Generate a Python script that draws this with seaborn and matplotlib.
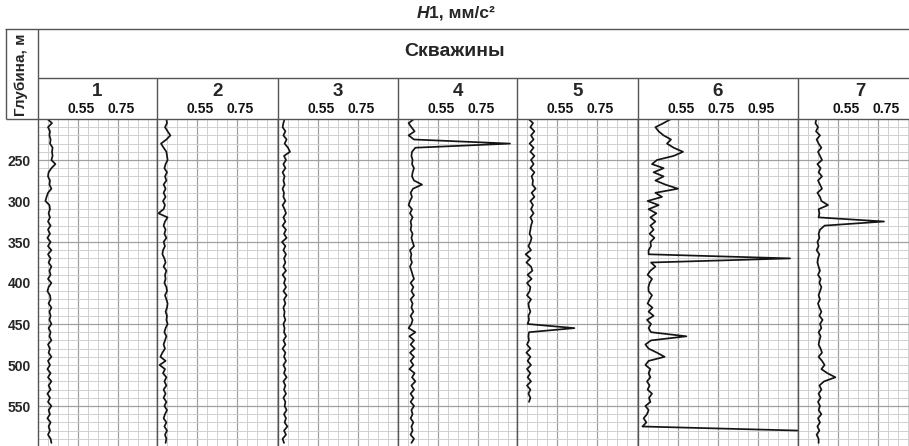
"""
Вертикальные профили H1 по семи скважинам (глубина 200-600 м).
"""

import matplotlib
matplotlib.use("Agg")
import matplotlib.pyplot as plt
from matplotlib.lines import Line2D
from matplotlib.transforms import ScaledTranslation
import seaborn as sns

# -------- Data -------- #

depth = list(range(200, 600, 5))

wells = ["1", "2", "3", "4", "5", "6", "7"]

well_1 = [.397, .420, .400, .410, .407, .413, .410, .423, .420, .423,
          .417, .437, .417, .403, .400, .410, .407, .417, .400, .393,
          .387, .407, .410, .403, .410, .400, .413, .400, .410, .397,
          .413, .400, .417, .400, .413, .403, .417, .407, .413, .400,
          .417, .403, .397, .410, .413, .403, .417, .407, .413, .407,
          .417, .403, .413, .407, .417, .400, .410, .403, .417, .400,
          .410, .397, .413, .400, .417, .403, .413, .397, .410, .400,
          .417, .403, .410, .397, .413, .403, .410, .400, .413, .417]

well_2 = [.397, .400, .390, .403, .417, .397, .370, .383, .397, .400,
          .403, .393, .387, .400, .390, .397, .383, .393, .383, .393,
          .380, .390, .383, .357, .403, .390, .383, .393, .387, .397,
          .383, .390, .380, .377, .387, .393, .383, .397, .390, .393,
          .387, .397, .400, .390, .397, .403, .400, .393, .400, .397,
          .403, .393, .387, .397, .390, .383, .390, .377, .367, .393,
          .363, .390, .380, .397, .387, .397, .383, .393, .383, .397,
          .387, .400, .390, .383, .397, .387, .400, .390, .397, .393]

well_3 = [.383, .377, .373, .387, .377, .393, .383, .400, .410, .380,
          .390, .377, .387, .373, .383, .377, .383, .373, .380, .377,
          .387, .373, .383, .390, .377, .387, .373, .390, .380, .393,
          .370, .387, .377, .390, .380, .387, .377, .390, .373, .387,
          .380, .390, .377, .393, .380, .387, .377, .383, .380, .387,
          .377, .383, .380, .390, .377, .387, .373, .387, .380, .390,
          .377, .387, .380, .393, .377, .387, .380, .390, .377, .387,
          .383, .393, .380, .390, .383, .397, .380, .390, .373, .380]

well_4 = [.430, .403, .417, .433, .403, .430, .910, .437, .420, .417,
          .423, .420, .430, .423, .420, .430, .470, .425, .413, .420,
          .410, .403, .420, .410, .423, .413, .417, .413, .423, .417,
          .423, .430, .410, .417, .413, .420, .410, .417, .423, .430,
          .413, .427, .417, .430, .413, .423, .417, .427, .413, .423,
          .417, .403, .437, .407, .430, .413, .433, .410, .430, .413,
          .427, .407, .433, .420, .437, .417, .430, .413, .427, .413,
          .430, .417, .423, .413, .427, .417, .423, .413, .430, .417]

well_5 = [.408, .430, .417, .437, .420, .433, .413, .433, .417, .437,
          .420, .433, .417, .437, .423, .430, .427, .443, .423, .437,
          .417, .430, .420, .433, .417, .427, .420, .417, .413, .423,
          .417, .407, .420, .393, .417, .397, .420, .427, .403, .423,
          .400, .417, .413, .400, .420, .407, .410, .417, .407, .410,
          .403, .637, .410, .407, .410, .400, .417, .397, .417, .403,
          .420, .400, .417, .403, .420, .400, .417, .407, .417, .410,
          None, None, None, None, None, None, None, None, None, None]

well_6 = [.515, .478, .437, .453, .478, .515, .495, .528, .575, .528,
          .445, .420, .478, .428, .478, .437, .487, .550, .437, .470,
          .398, .453, .403, .442, .412, .437, .412, .428, .408, .432,
          .412, .415, .403, .403, 1.110, .415, .437, .412, .398, .420,
          .408, .402, .403, .420, .408, .398, .422, .403, .428, .395,
          .415, .403, .415, .592, .415, .387, .403, .445, .483, .403,
          .387, .412, .403, .412, .395, .408, .398, .420, .405, .412,
          .387, .403, .395, .378, .392, .372, 1.160, None, None, None]

well_7 = [.442, .437, .450, .440, .460, .443, .453, .467, .450, .460,
          .470, .447, .463, .453, .470, .450, .460, .470, .447, .460,
          .467, .500, .453, .457, .453, .780, .483, .460, .453, .457,
          .447, .453, .443, .457, .450, .447, .453, .460, .450, .463,
          .457, .467, .460, .453, .460, .450, .457, .467, .457, .473,
          .460, .467, .453, .463, .457, .453, .463, .470, .453, .470,
          .483, .467, .497, .537, .480, .457, .467, .453, .463, .450,
          .460, .453, .467, .450, .460, .447, .457, .443, .453, .453]

series = [well_1, well_2, well_3, well_4, well_5, well_6, well_7]
tick_values = [[0.55, 0.75]] * 5 + [[0.55, 0.75, 0.95], [0.55, 0.75]]

# -------- Layout (pixels) -------- #

W, H = 909, 446
edges = [38, 157, 278, 398, 517, 638, 798, 909]
top = 119
px_per_unit = 200.0
px_per_m = 0.82
x_start = 0.35
line_col = "#555555"


def fx(px):
    return px / W


def fy(py):
    return 1 - py / H


def fig_line(fig, xs, ys):
    fig.add_artist(Line2D([fx(x) for x in xs], [fy(y) for y in ys],
                          color=line_col, lw=1.0, solid_capstyle="butt"))


sns.set_theme(style="white")
plt.rcParams["font.family"] = ["Liberation Sans", "DejaVu Sans"]
plt.rcParams["font.weight"] = "bold"

fig = plt.figure(figsize=(W / 100, H / 100), dpi=100)

y_bottom = 200 + (H - top) / px_per_m

for i, (name, values) in enumerate(zip(wells, series)):
    left, right = edges[i], edges[i + 1]
    ax = fig.add_axes([fx(left), 0, (right - left) / W, (H - top) / H])
    x_end = x_start + (right - left) / px_per_unit

    # grid
    k = 1
    while x_start + 0.05 * k < x_end - 1e-6:
        xv = round(x_start + 0.05 * k, 2)
        major = xv in tick_values[i]
        ax.axvline(xv, color="#a0a0a0" if major else "#d0d0d0",
                   lw=0.9 if major else 0.7, zorder=0)
        k += 1
    for d in range(210, 600, 10):
        major = d in (250, 350, 450, 550)
        ax.axhline(d, color="#a0a0a0" if major else "#d0d0d0",
                   lw=0.9 if major else 0.7, zorder=0)

    sns.lineplot(x=[v if v is not None else float("nan") for v in values],
                 y=depth, orient="y", sort=False, estimator=None,
                 color="#151515", lw=1.25, ax=ax)

    ax.set_xlim(x_start, x_end)
    ax.set_ylim(y_bottom, 200)
    ax.set_xlabel("")
    ax.set_ylabel("")

    ax.xaxis.tick_top()
    ax.set_xticks(tick_values[i])
    ax.set_xticklabels([f"{t:.2f}" for t in tick_values[i]],
                       fontsize=10, fontweight="bold")
    ax.tick_params(axis="x", length=0, pad=2, colors="#111111")
    shift = 8 if i == len(wells) - 1 else 3
    for lbl in ax.get_xticklabels():
        lbl.set_transform(lbl.get_transform() +
                          ScaledTranslation(shift / 100, 0, fig.dpi_scale_trans))

    if i == 0:
        ax.set_yticks([250, 300, 350, 400, 450, 500, 550])
        ax.tick_params(axis="y", length=3, width=0.8, pad=2,
                       color=line_col, labelsize=10)
        for lbl in ax.get_yticklabels():
            lbl.set_fontweight("bold")
    else:
        ax.set_yticks([])

    for side, sp in ax.spines.items():
        sp.set_color(line_col)
        sp.set_linewidth(1.0)
    ax.spines["bottom"].set_visible(False)
    if i == len(wells) - 1:
        ax.spines["right"].set_visible(False)

    centre = (left + right) / 2 if i < 6 else left + 62
    fig.text(fx(centre), fy(91), name, ha="center", va="center",
             fontsize=13.5, fontweight="bold")

# -------- Header frame -------- #

fig_line(fig, [5, W], [29, 29])
fig_line(fig, [6, 6], [29, top])
fig_line(fig, [6, 38], [top, top])
fig_line(fig, [38, 38], [29, top])
fig_line(fig, [38, W], [78, 78])
for e in edges[1:-1]:
    fig_line(fig, [e, e], [78, top])

fig.text(fx(21), fy(75), "Глубина, м", rotation=90, ha="center",
         va="center", fontsize=11, fontweight="bold")
fig.text(fx(455), fy(52), "Скважины", ha="center", va="center",
         fontsize=14, fontweight="bold")
fig.text(fx(417), fy(13), "H", ha="left", va="center", fontsize=12.5,
         fontweight="bold", style="italic")
fig.text(fx(429), fy(13), "1, мм/с²", ha="left", va="center",
         fontsize=12.5, fontweight="bold")

fig.savefig("out.png", dpi=100)
